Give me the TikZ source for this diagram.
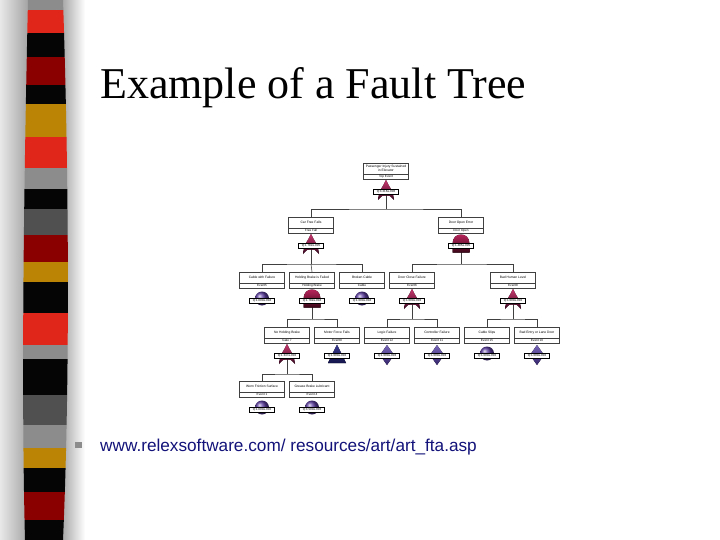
\documentclass[tikz,border=0pt]{standalone}
\usepackage{fontspec}
\setmainfont{Liberation Serif}
\newfontfamily\ftfont{Liberation Sans}
\usetikzlibrary{calc}
\definecolor{stred}{HTML}{E0261A}
\definecolor{stblack}{HTML}{050505}
\definecolor{stdred}{HTML}{8A0000}
\definecolor{stgold}{HTML}{BC8404}
\definecolor{stgray}{HTML}{8C8C8C}
\definecolor{stdgray}{HTML}{505050}
\definecolor{urlblue}{HTML}{12127A}
\definecolor{gatetop}{HTML}{C8386E}
\definecolor{gatebot}{HTML}{3A0620}
\definecolor{andtop}{HTML}{B8245A}
\definecolor{andbot}{HTML}{3A0618}
\definecolor{evpurple}{HTML}{5A3C9E}
\definecolor{dmtop}{HTML}{7866B8}
\definecolor{dmbot}{HTML}{33246A}
\definecolor{trtop}{HTML}{3A3A90}
\definecolor{trbot}{HTML}{14144A}
\definecolor{ftline}{HTML}{404040}
\tikzset{
  ftmain/.style={draw=ftline, line width=0.4pt, fill=white, minimum width=45pt, minimum height=11pt,
    inner sep=0pt, align=center, font=\ftfont\fontsize{3.3}{3.7}\selectfont},
  ftsub/.style={draw=ftline, line width=0.4pt, fill=white, minimum width=45pt, minimum height=5pt,
    inner sep=0pt, font=\ftfont\fontsize{3.1}{3.4}\selectfont},
  ftprob/.style={draw=black, line width=0.4pt, fill=white, minimum width=25pt, minimum height=5.5pt,
    inner sep=0pt, font=\ftfont\fontsize{3}{3.4}\selectfont},
  ftconn/.style={draw=ftline, line width=0.55pt},
  orgate/.style={top color=gatetop, bottom color=gatebot},
  andgate/.style={top color=andtop, bottom color=andbot},
  dmgate/.style={top color=dmtop, bottom color=dmbot},
  trgate/.style={top color=trtop, bottom color=trbot},
}
% #1 name, #2 cx, #3 t, #4 main text, #5 sub text
\newcommand\ftbox[5]{%
  \node[ftmain] (#1) at (#2,#3+5.5) {#4};
  \node[ftsub] (#1s) at (#2,#3+13.5) {#5};
}
% gate shapes: #1 cx, #2 t
\newcommand\ftor[2]{%
  \fill[orgate] (#1,#2+17) .. controls (#1+2,#2+22) and (#1+7,#2+27) .. (#1+8,#2+37)
    .. controls (#1+4,#2+32.5) .. (#1,#2+32.5) .. controls (#1-4,#2+32.5) .. (#1-8,#2+37)
    .. controls (#1-7,#2+27) and (#1-2,#2+22) .. cycle;}
\newcommand\ftand[2]{%
  \fill[andgate] (#1-8.5,#2+35.5) -- (#1-8.5,#2+27) .. controls (#1-8.5,#2+20.5) and (#1-4.5,#2+17.5) .. (#1,#2+17.5)
    .. controls (#1+4.5,#2+17.5) and (#1+8.5,#2+20.5) .. (#1+8.5,#2+27) -- (#1+8.5,#2+35.5) -- cycle;}
\newcommand\ftcirc[2]{%
  \shade[ball color=evpurple] (#1,#2+26.5) circle (7);}
\newcommand\ftdiam[2]{%
  \fill[dmgate] (#1,#2+18) -- (#1+7,#2+28) -- (#1,#2+38) -- (#1-7,#2+28) -- cycle;}
\newcommand\fttri[2]{%
  \fill[trgate] (#1,#2+17.5) -- (#1+9,#2+36) -- (#1-9,#2+36) -- cycle;}
\begin{document}
\begin{tikzpicture}[x=1pt,y=-1pt]
\useasboundingbox (0,0) rectangle (720,540);
\fill[white] (0,0) rectangle (720,540);
% shadows around the stripe bar
\shade[left color=gray!18, right color=gray!75] (0,0) rectangle (30,540);
\shade[left color=gray!75, right color=white] (60,0) rectangle (85,540);
% stripe bar
\begin{scope}
\clip (28,0) .. controls (24,180) and (21,380) .. (25,540) -- (63,540)
      .. controls (70,380) and (69,180) .. (63,0) -- cycle;
\fill[stgray]  (0,0)   rectangle (90,10);
\fill[stred]   (0,10)  rectangle (90,33);
\fill[stblack] (0,33)  rectangle (90,57);
\fill[stdred]  (0,57)  rectangle (90,85);
\fill[stblack] (0,85)  rectangle (90,104);
\fill[stgold]  (0,104) rectangle (90,137);
\fill[stred]   (0,137) rectangle (90,168);
\fill[stgray]  (0,168) rectangle (90,189);
\fill[stblack] (0,189) rectangle (90,209);
\fill[stdgray] (0,209) rectangle (90,235);
\fill[stdred]  (0,235) rectangle (90,262);
\fill[stgold]  (0,262) rectangle (90,282);
\fill[stblack] (0,282) rectangle (90,313);
\fill[stred]   (0,313) rectangle (90,345);
\fill[stgray]  (0,345) rectangle (90,359);
\fill[stblack] (0,359) rectangle (90,395);
\fill[stdgray] (0,395) rectangle (90,425);
\fill[stgray]  (0,425) rectangle (90,448);
\fill[stgold]  (0,448) rectangle (90,468);
\fill[stblack] (0,468) rectangle (90,492);
\fill[stdred]  (0,492) rectangle (90,520);
\fill[stblack] (0,520) rectangle (90,540);
\end{scope}
% title
\node[anchor=base west, inner sep=0pt, font=\fontsize{44}{50}\selectfont] (title) at (100,99) {Example of a Fault Tree};
% bullet and link
\fill[stgray] (75,442) rectangle (82,448);
\node[anchor=base west, inner sep=0pt, text=urlblue, font=\ftfont\fontsize{17.2}{20}\selectfont] (url) at (100,451)
  {www.relexsoftware.com/ resources/art/art\_fta.asp};
% ---------------- fault tree ----------------
% boxes
\ftbox{top}{386}{163}{Passenger Injury Sustained\\in Elevator}{Top Event}
\ftbox{a}{311}{217}{Car Free Falls}{Free Fall}
\ftbox{b}{461}{217}{Door Open Error}{Door Open}
\ftbox{ca}{262}{272}{Cable with Failure}{Event5}
\ftbox{cb}{312}{272}{Holding Brake is Failed}{Holding Brake}
\ftbox{cc}{362}{272}{Broken Cable}{Cable}
\ftbox{cd}{412}{272}{Door Close Failure}{Event6}
\ftbox{ce}{513}{272}{Bad Human Level}{Event8}
\ftbox{da}{287}{327}{No Holding Brake}{Gate 7}
\ftbox{db}{337}{327}{Motor Force Fails}{Event9}
\ftbox{dc}{387}{327}{Logic Failure}{Event 12}
\ftbox{dd}{437}{327}{Controller Failure}{Event 11}
\ftbox{de}{487}{327}{Cable Slips}{Event 15}
\ftbox{df}{537}{327}{Bad Entry or Lane Door}{Event 10}
\ftbox{ea}{262}{381}{Worn Friction Surface}{Event 1}
\ftbox{eb}{312}{381}{Grease Brake Lubricant}{Event 4}
% gate anchors
\coordinate (topg) at (386,195); \coordinate (toph) at (386,209);
\coordinate (ag) at (311,249);   \coordinate (ah) at (311,264);
\coordinate (bg) at (461,249);   \coordinate (bh) at (461,264);
\coordinate (cbg) at (312,304);  \coordinate (cbh) at (312,319);
\coordinate (cdg) at (412,304);  \coordinate (cdh) at (412,319);
\coordinate (ceg) at (513,304);  \coordinate (ceh) at (513,319);
\coordinate (dag) at (287,359);  \coordinate (dah) at (287,374);
% connectors
\draw[ftconn] (topg) -- (toph);
\draw[ftconn] (a.north) |- (toph) -| (b.north);
\draw[ftconn] (ag) -- (ah);
\draw[ftconn] (ca.north) |- (ah) -| (cc.north);
\draw[ftconn] (ah) -- (cb.north);
\draw[ftconn] (bg) -- (bh);
\draw[ftconn] (cd.north) |- (bh) -| (ce.north);
\draw[ftconn] (cbg) -- (cbh);
\draw[ftconn] (da.north) |- (cbh) -| (db.north);
\draw[ftconn] (cdg) -- (cdh);
\draw[ftconn] (dc.north) |- (cdh) -| (dd.north);
\draw[ftconn] (ceg) -- (ceh);
\draw[ftconn] (de.north) |- (ceh) -| (df.north);
\draw[ftconn] (dag) -- (dah);
\draw[ftconn] (ea.north) |- (dah) -| (eb.north);
% gate symbols
\ftor{386}{163}
\ftor{311}{217}
\ftand{461}{217}
\ftcirc{262}{272}
\ftand{312}{272}
\ftcirc{362}{272}
\ftor{412}{272}
\ftor{513}{272}
\ftor{287}{327}
\fttri{337}{327}
\ftdiam{387}{327}
\ftdiam{437}{327}
\ftcirc{487}{327}
\ftdiam{537}{327}
\ftcirc{262}{381}
\ftcirc{312}{381}
% probability labels
\node[ftprob] (topp) at (386,191.5) {Q:3.216e-006};
\node[ftprob] (ap) at (311,245.5) {Q:1.782e-005};
\node[ftprob] (bp) at (461,245.5) {Q:1.485e-005};
\node[ftprob] (cap) at (262,300.5) {Q:1.000e-004};
\node[ftprob] (cbp) at (312,300.5) {Q:1.782e-004};
\node[ftprob] (ccp) at (362,300.5) {Q:1.000e-004};
\node[ftprob] (cdp) at (412,300.5) {Q:1.000e-003};
\node[ftprob] (cep) at (513,300.5) {Q:1.000e-002};
\node[ftprob] (dap) at (287,355.5) {Q:1.347e-002};
\node[ftprob] (dbp) at (337,355.5) {Q:1.000e-002};
\node[ftprob] (dcp) at (387,355.5) {Q:1.000e-003};
\node[ftprob] (ddp) at (437,355.5) {Q:1.000e-003};
\node[ftprob] (dep) at (487,355.5) {Q:1.000e-002};
\node[ftprob] (dfp) at (537,355.5) {Q:1.000e-002};
\node[ftprob] (eap) at (262,409.5) {Q:1.000e-002};
\node[ftprob] (ebp) at (312,409.5) {Q:3.500e-003};
\end{tikzpicture}
\end{document}
